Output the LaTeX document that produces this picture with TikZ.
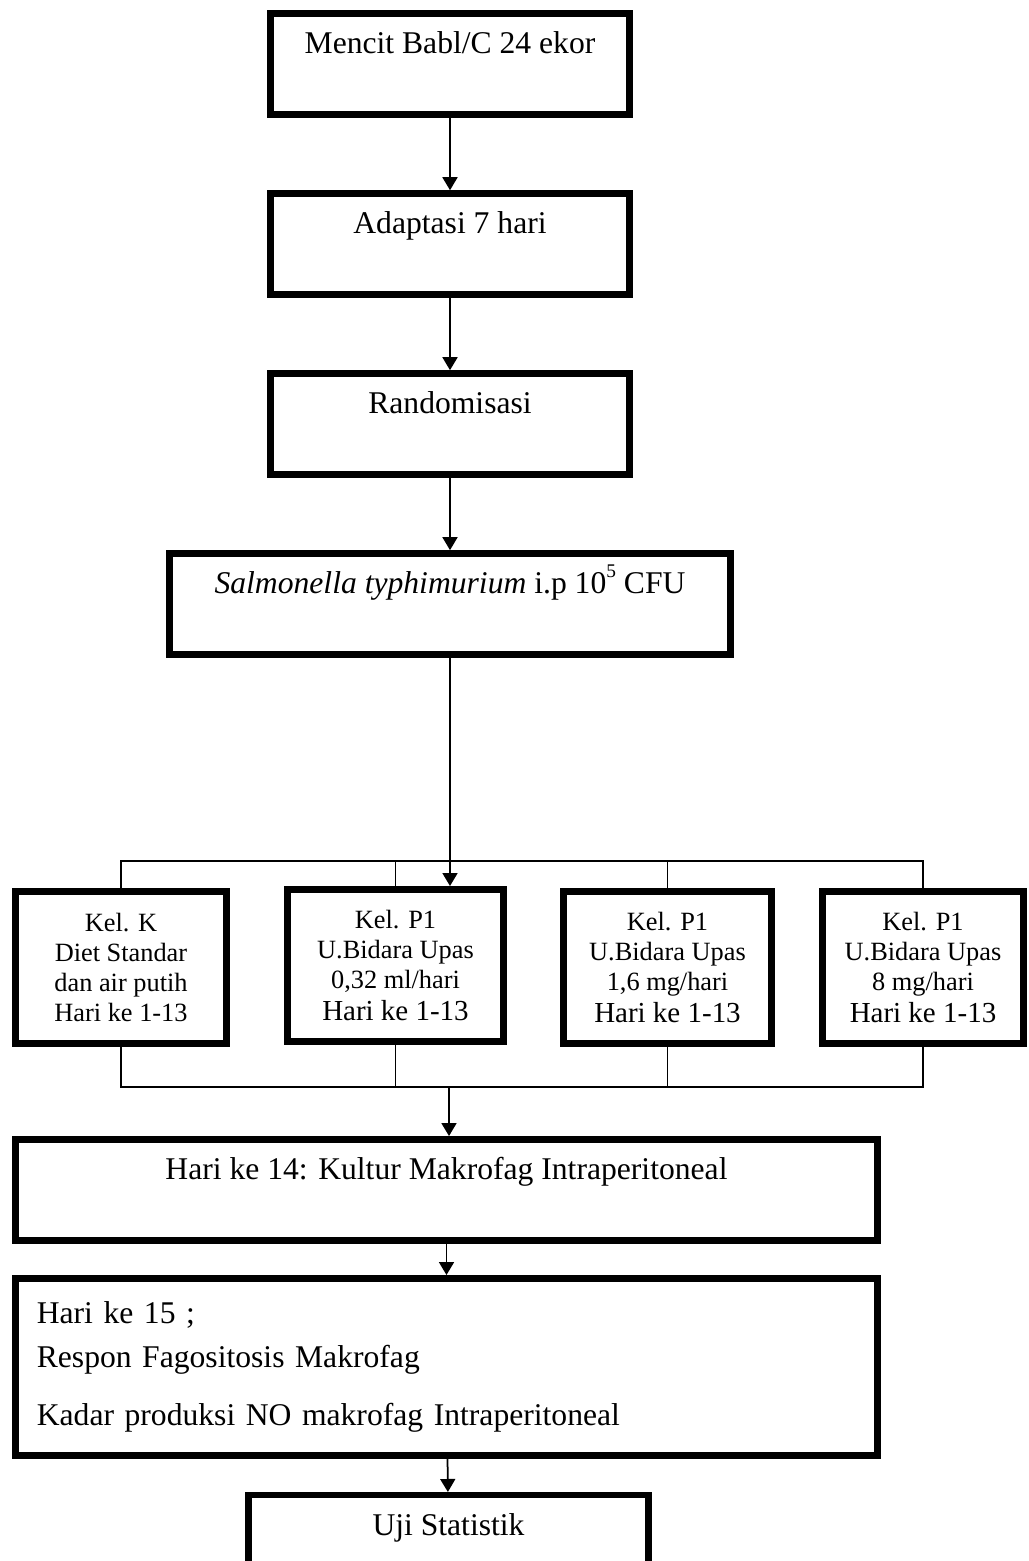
\documentclass[tikz,border=0pt]{standalone}
\usepackage{fontspec}
\setmainfont{Liberation Serif}
\usetikzlibrary{arrows.meta,positioning}

\begin{document}
\begin{tikzpicture}[
    x=0.02cm, y=-0.02cm,
    stage/.style={draw, rectangle, line width=0.13cm, minimum width=7.19cm, inner sep=0pt, text height=0.8cm, text depth=1.22cm, font=\fontsize{18}{22}\selectfont},
    result/.style={draw, rectangle, line width=0.13cm, minimum height=3.55cm, text width=16.39cm, inner xsep=0.43cm, inner ysep=0pt, align=left, font=\fontsize{18}{22}\selectfont},
    group/.style={draw, rectangle, line width=0.13cm, minimum height=3.05cm, inner sep=0pt, align=center, font=\fontsize{15}{17}\selectfont},
    arrow/.style={-{Triangle[length=0.26cm, width=0.3cm]}, line width=0.035cm},
    link/.style={line width=0.03cm},
    node distance=1.45cm
]
\useasboundingbox (0,0) rectangle (1028,1561);

% main column
\node[stage] (mencit) at (450,64) {Mencit Babl/C 24 ekor};
\node[stage, below=of mencit] (adapt) {Adaptasi 7 hari};
\node[stage, below=of adapt] (rand) {Randomisasi};
\node[stage, minimum width=11.23cm, below=of rand] (salm) {\textit{Salmonella typhimurium} i.p 10\raisebox{1.1ex}{\fontsize{11}{11}\selectfont 5} CFU};

% treatment groups
\node[group, minimum width=4.23cm] (kk) at (121,967.5) {Kel. K\\Diet Standar\\dan air putih\\Hari ke 1-13};
\node[group, minimum width=4.33cm] (p1a) at (395.5,965.5) {Kel. P1\\U.Bidara Upas\\0,32 ml/hari\\[1pt]\fontsize{16.5}{19}\selectfont Hari ke 1-13};
\node[group, minimum width=4.17cm] (p1b) at (667.5,967.5) {Kel. P1\\U.Bidara Upas\\1,6 mg/hari\\[1pt]\fontsize{16.5}{19}\selectfont Hari ke 1-13};
\node[group, minimum width=4.03cm] (p1c) at (923,967.5) {Kel. P1\\U.Bidara Upas\\8 mg/hari\\[1pt]\fontsize{16.5}{19}\selectfont Hari ke 1-13};

\node[stage, minimum width=17.25cm, below=9.57cm of salm, xshift=-0.07cm] (h14) {Hari ke 14: Kultur Makrofag Intraperitoneal};
\node[result, below=0.63cm of h14] (h15) {Hari ke 15 ;\\[3pt]Respon Fagositosis Makrofag\\[11pt]Kadar produksi NO makrofag Intraperitoneal};
\node[stage, minimum width=8.01cm, below=0.66cm of h15, xshift=0.04cm] (uji) {Uji Statistik};

\coordinate (split) at (449,861);
\coordinate (merge) at (449,1087);

\draw[arrow] (mencit) -- (adapt);
\draw[arrow] (adapt) -- (rand);
\draw[arrow] (rand) -- (salm);
\draw[arrow] (salm) -- (salm |- p1a.north);

\draw[link] (kk.north) |- (split) -| (p1c.north);
\draw[link] (p1a.north) -- (p1a.north |- split);
\draw[link] (p1b.north) -- (p1b.north |- split);
\draw[link] (kk.south) |- (merge) -| (p1c.south);
\draw[link] (p1a.south) -- (p1a.south |- merge);
\draw[link] (p1b.south) -- (p1b.south |- merge);

\draw[arrow] (merge) -- (merge |- h14.north);
\draw[arrow] (h14) -- (h15);
\draw[arrow] (h15) -- (uji);
\end{tikzpicture}
\end{document}
